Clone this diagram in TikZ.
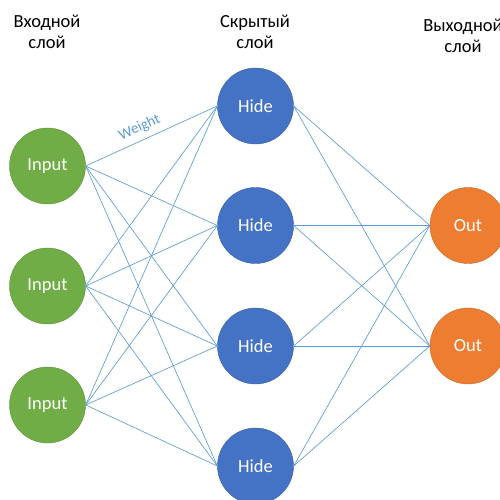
\documentclass[tikz,border=0pt]{standalone}
\usepackage{fontspec}
\setmainfont{Carlito}
\definecolor{ingreen}{RGB}{112,173,71}
\definecolor{hidblue}{RGB}{68,114,196}
\definecolor{outorange}{RGB}{237,125,49}
\definecolor{linkblue}{RGB}{91,155,213}
\begin{document}
\begin{tikzpicture}[x=1pt,y=-1pt,
  neuron/.style={circle, minimum size=76pt, inner sep=0pt, text=white,
    font=\fontsize{18.5}{21}\selectfont},
  inneuron/.style={neuron, fill=ingreen, draw=ingreen!85!black, line width=0.4pt},
  hidneuron/.style={neuron, fill=hidblue, draw=hidblue!85!black, line width=0.4pt},
  outneuron/.style={neuron, fill=outorange, draw=outorange!85!black, line width=0.4pt},
  header/.style={align=center, font=\fontsize{18.5}{21}\selectfont, text=black},
  link/.style={draw=linkblue, line width=0.65pt}
]
\useasboundingbox (0,0) rectangle (500,500);
\node[header] (tin) at (47,32) {Входной\\слой};
\node[header] (thid) at (255,32) {Скрытый\\слой};
\node[header] (tout) at (463,36) {Выходной\\слой};

\node[inneuron] (i1) at (47.5,166) {Input};
\node[inneuron] (i2) at (47.5,286) {Input};
\node[inneuron] (i3) at (47.5,405) {Input};

\node[hidneuron] (h1) at (255.5,106) {Hide};
\node[hidneuron] (h2) at (255.5,225.5) {Hide};
\node[hidneuron] (h3) at (255.5,346) {Hide};
\node[hidneuron] (h4) at (255.5,466) {Hide};

\node[outneuron] (o1) at (468,225.5) {Out};
\node[outneuron] (o2) at (468,346) {Out};

\foreach \i in {i1,i2,i3}
  \foreach \h in {h1,h2,h3,h4}
    \draw[link] (\i.east) -- (\h.west);
\foreach \h in {h1,h2,h3,h4}
  \foreach \o in {o1,o2}
    \draw[link] (\h.east) -- (\o.west);

\path (i1.east) -- (h1.west) node[pos=0.45, sloped, anchor=south, inner sep=6pt,
  text=linkblue, font=\fontsize{15}{17}\selectfont] (w) {Weight};
\end{tikzpicture}
\end{document}
